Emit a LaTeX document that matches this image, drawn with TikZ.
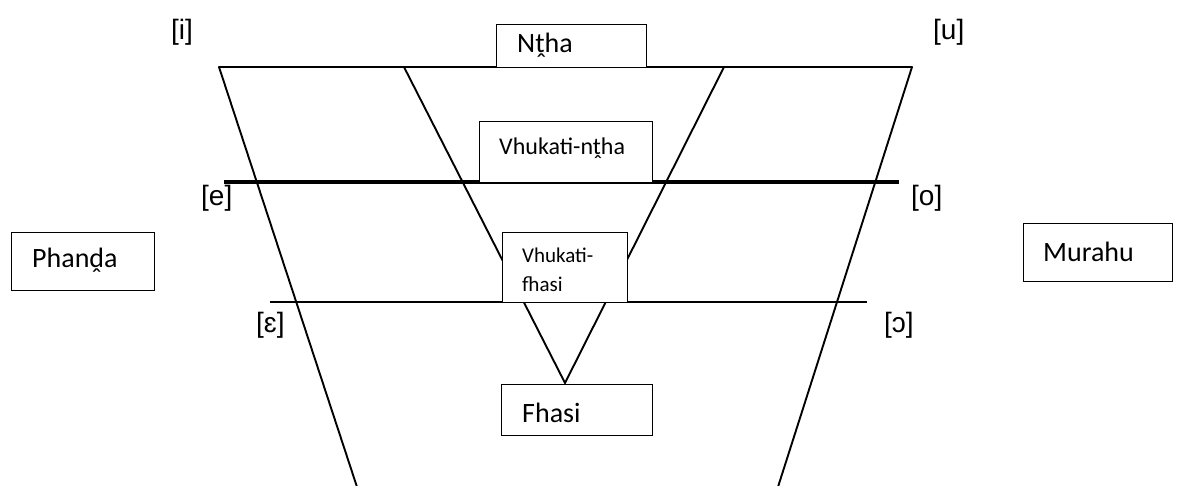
\documentclass[tikz,border=0pt]{standalone}
\usepackage{fontspec}
\setmainfont{Carlito}
\newfontfamily\ipafont{Liberation Sans}
\begin{document}
\begin{tikzpicture}[x=1pt,y=-1pt,
  frame/.style={draw=black, fill=white, line width=1.2pt, inner sep=0pt, anchor=north west},
  boxtext/.style={anchor=base west, inner sep=0pt, font=\fontsize{28}{32}\selectfont},
  vowel/.style={anchor=base west, inner sep=0pt, font=\ipafont\fontsize{28}{32}\selectfont},
  rim/.style={line width=2.2pt, line cap=round},
  chart/.style={line width=1.9pt}]
\useasboundingbox (0,0) rectangle (1183,486);

% corners of the vowel chart
\coordinate (tl) at (219,67);
\coordinate (tr) at (912,67);
\coordinate (bl) at (358,490);
\coordinate (br) at (777,490);
\coordinate (vl) at (404,67);
\coordinate (vr) at (724,67);
\coordinate (vb) at (565,383);
\coordinate (el) at (224,182);
\coordinate (er) at (899,182);
\coordinate (ol) at (270,302);
\coordinate (or) at (867,302);

% outline and inner triangle
\draw[rim] (tl) -- (tr);
\draw[chart] (tl) -- (bl);
\draw[chart] (tr) -- (br);
\draw[chart] (vl) -- (vb) -- (vr);
\draw[line width=3.4pt] (el) -- (er);
\draw[line width=1.9pt] (ol) -- (or);

% boxes
\node[frame, minimum width=150, minimum height=43] (ntha) at (496,24) {};
\node[boxtext] (nthaT) at (517,53) {Nṱha};

\node[frame, minimum width=173, minimum height=61] (vnt) at (479,121) {};
\node[boxtext, font=\fontsize{24}{28}\selectfont] (vntT) at (499,155) {Vhukati-nṱha};

\node[frame, minimum width=125, minimum height=70] (vfh) at (502,232) {};
\node[boxtext, font=\fontsize{21}{25}\selectfont] (vfhA) at (522,263) {Vhukati-};
\node[boxtext, font=\fontsize{21}{25}\selectfont] (vfhB) at (522,292) {fhasi};

\node[frame, minimum width=151, minimum height=51] (fhasi) at (501,384) {};
\node[boxtext] (fhasiT) at (522,422) {Fhasi};

\node[frame, minimum width=143, minimum height=58] (phanda) at (11,232) {};
\node[boxtext] (phandaT) at (32,268) {Phanḓa};

\node[frame, minimum width=149, minimum height=58] (murahu) at (1023,223) {};
\node[boxtext] (murahuT) at (1043,262) {Murahu};

% vowel symbols
\node[vowel] (vi) at (171,40) {[i]};
\node[vowel] (vu) at (933,40) {[u]};
\node[vowel] (ve) at (201,206) {[e]};
\node[vowel] (vo) at (911,206) {[o]};
\node[vowel] (veps) at (256,332) {[ɛ]};
\node[vowel] (vopen) at (884,332) {[ɔ]};
\end{tikzpicture}
\end{document}
